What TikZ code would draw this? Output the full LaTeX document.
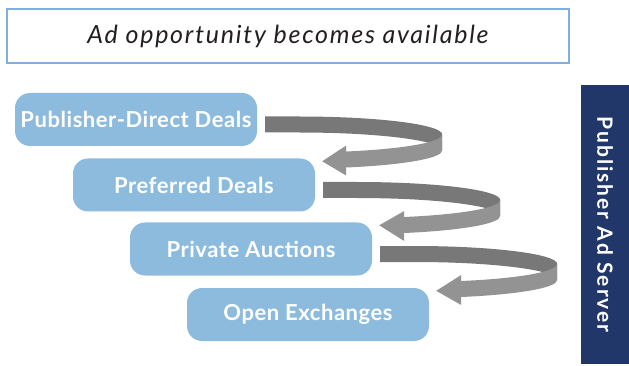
\documentclass[tikz,border=0pt]{standalone}
\usepackage{fontspec}
\setmainfont{Lato}
\newfontfamily\dealfont[LetterSpace=2.5]{Lato}
\newfontfamily\bannerfont[LetterSpace=7]{Lato}
\newfontfamily\serverfont[LetterSpace=9.5]{Lato}
\usepackage{tikz}
\usetikzlibrary{positioning,calc}

\definecolor{dealblue}{RGB}{141,187,222}
\definecolor{servernavy}{RGB}{33,55,105}
\definecolor{topline}{RGB}{127,174,224}
\definecolor{backgray}{RGB}{120,120,120}
\definecolor{frontgray}{RGB}{147,147,147}
\definecolor{textgray}{RGB}{35,31,32}

\begin{document}
\begin{tikzpicture}[x=1pt,y=-1pt,
  deal/.style={rounded corners=15pt,fill=dealblue,text=white,minimum width=242pt,minimum height=53pt,font=\dealfont\fontsize{22}{26}\selectfont\bfseries},
  banner/.style={draw=topline,line width=1.2pt,fill=white,minimum width=562pt,minimum height=54pt,text=textgray,font=\bannerfont\fontsize{25}{30}\selectfont\itshape},
  server/.style={fill=servernavy,text=white,minimum width=279pt,minimum height=48pt,rotate=-90,font=\serverfont\fontsize{21}{25}\selectfont\bfseries}]
\useasboundingbox (0,0) rectangle (629,366);
\node[banner] (opp) at (288,36) {Ad opportunity becomes available};
\node[deal] (pd) at (136,119.5) {Publisher-Direct Deals};
\node[deal] (pf) at (194,185) {Preferred Deals};
\node[deal] (pa) at (251,249) {Private Auctions};
\node[deal] (oe) at (308,314.5) {Open Exchanges};
\node[server] (srv) at (605,224.5) {Publisher Ad Server};
% ribbon arrows going round and back to the next deal
\foreach \a/\b in {pd/pf,pf/pa,pa/oe}{
  \begin{scope}[shift={(\a.east)}]
    \fill[backgray] (8,-3) -- (42,-3) .. controls (121,-3) and (185,5) .. (185,15) -- (185,31) .. controls (185,21) and (121,13) .. (42,13) -- (8,13) -- cycle;
    \fill[frontgray] (185,15) .. controls (185,22.7) and (146.5,29.5) .. (89,32) -- (89,48) .. controls (146.5,45.5) and (185,38.7) .. (185,31) -- cycle;
    \fill[frontgray] (89,26) -- ([xshift=7pt,yshift=-3pt]\b.north east) -- (89,56) -- cycle;
  \end{scope}
}
\end{tikzpicture}
\end{document}
